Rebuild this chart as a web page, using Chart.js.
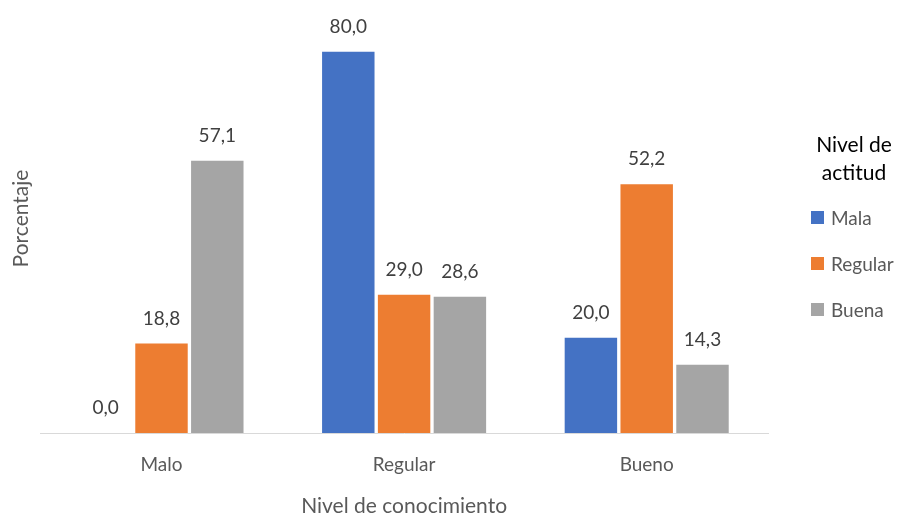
<!DOCTYPE html>
<html>
<head>
<meta charset="utf-8">
<script src="https://cdn.jsdelivr.net/npm/chart.js@4"></script>
<style>
  html, body { margin: 0; padding: 0; background: #fff; }
  #wrap { position: relative; width: 906px; height: 513px; font-family: Lato, "Open Sans", sans-serif; }
  #legend { position: absolute; left: 804px; top: 130px; width: 100px; }
  #legend .title { text-align: center; font-size: 21px; line-height: 28px; color: #000; margin-bottom: 8px; }
  #legend .item { display: flex; align-items: center; height: 46px; font-size: 19px; color: #595959; margin-left: 7px; }
  #legend .sw { width: 13px; height: 13px; margin-right: 7px; }
</style>
</head>
<body>
<div id="wrap">
  <canvas id="c" width="906" height="513"></canvas>
  <div id="legend"></div>
</div>
<script>
// Nivel de conocimiento (x) vs. nivel de actitud (series), percentages
const categories = ["Malo", "Regular", "Bueno"];
const seriesNames = ["Mala", "Regular", "Buena"];
const mala = [0.0, 80.0, 20.0];
const regular = [18.8, 29.0, 52.2];
const buena = [57.1, 28.6, 14.3];
const colors = ["#4472C4", "#ED7D31", "#A5A5A5"];

const FONT = "Lato, 'Open Sans', sans-serif";

// value labels above each bar, with comma decimals
const valueLabels = {
  id: "valueLabels",
  afterDatasetsDraw(chart) {
    const ctx = chart.ctx;
    ctx.save();
    ctx.font = "19px " + FONT;
    ctx.fillStyle = "#404040";
    ctx.textAlign = "center";
    ctx.textBaseline = "middle";
    chart.data.datasets.forEach((ds, i) => {
      chart.getDatasetMeta(i).data.forEach((bar, j) => {
        const txt = ds.data[j].toFixed(1).replace(".", ",");
        ctx.fillText(txt, bar.x, bar.y - 25);
      });
    });
    ctx.restore();
  },
};

const datasets = [mala, regular, buena].map((d, i) => ({
  label: seriesNames[i],
  data: d,
  backgroundColor: colors[i],
  categoryPercentage: 0.69,
  barPercentage: 0.94,
}));

new Chart(document.getElementById("c"), {
  type: "bar",
  data: { labels: categories, datasets: datasets },
  options: {
    responsive: false,
    animation: false,
    layout: { padding: { left: 9, right: 138, top: 4, bottom: -6 } },
    plugins: { legend: { display: false }, tooltip: { enabled: false } },
    scales: {
      x: {
        grid: { display: false, drawTicks: false, tickLength: 0 },
        border: { display: true, color: "#D9D9D9", width: 1 },
        ticks: { color: "#595959", font: { family: FONT, size: 19 }, padding: 20 },
        title: {
          display: true,
          text: "Nivel de conocimiento",
          color: "#595959",
          font: { family: FONT, size: 21 },
          padding: { top: -2, bottom: 0 },
        },
      },
      y: {
        min: 0,
        max: 90,
        grid: { display: false, drawTicks: false },
        border: { display: false },
        ticks: { display: false },
        title: {
          display: true,
          text: "Porcentaje",
          color: "#595959",
          font: { family: FONT, size: 21 },
          padding: { top: 0, bottom: 6 },
        },
      },
    },
  },
  plugins: [valueLabels],
});

// legend
const lg = document.getElementById("legend");
lg.innerHTML = '<div class="title">Nivel de<br>actitud</div>' +
  seriesNames.map((n, i) =>
    '<div class="item"><span class="sw" style="background:' + colors[i] + '"></span>' + n + '</div>'
  ).join("");
</script>
</body>
</html>
